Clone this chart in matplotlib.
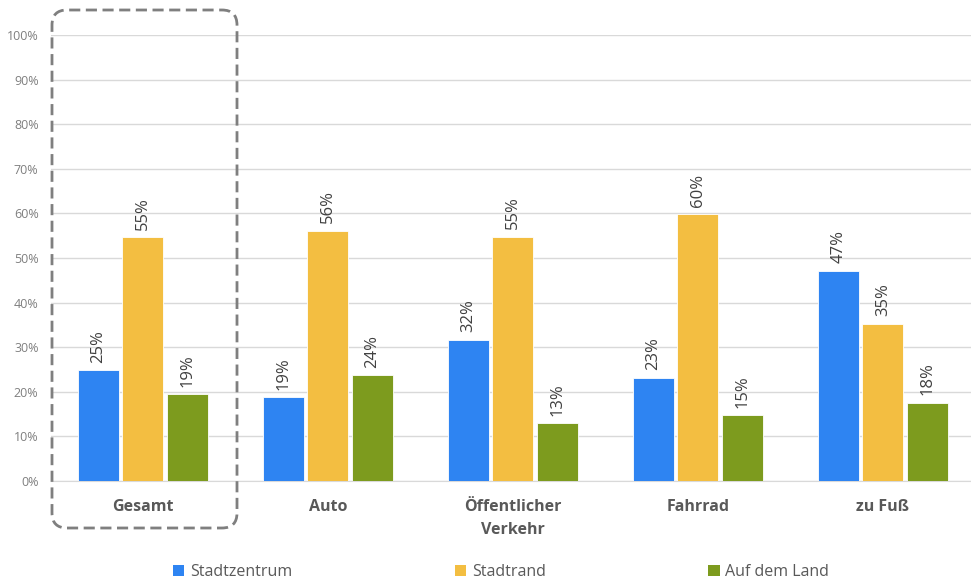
import numpy as np
import matplotlib
matplotlib.use("Agg")
from matplotlib import pyplot as plt
from matplotlib.patches import FancyBboxPatch
from matplotlib.transforms import IdentityTransform
from matplotlib.ticker import PercentFormatter

plt.rcParams['font.family'] = ['Open Sans', 'DejaVu Sans']

categories   = ['Gesamt', 'Auto', 'Öffentlicher\nVerkehr', 'Fahrrad', 'zu Fuß']
seriesNames  = ['Stadtzentrum', 'Stadtrand', 'Auf dem Land']
stadtzentrum = [24.8, 18.8, 31.6, 23.2, 47.1]
stadtrand    = [54.6, 56.1, 54.7, 59.8, 35.2]
aufDemLand   = [19.4, 23.7, 12.9, 14.7, 17.6]

colors = ['#2E84F2', '#F3BE41', '#7D9B1E']

fig = plt.figure(figsize=(9.71, 5.81), dpi=100)
ax = fig.add_axes([51 / 971, 100 / 581, 920 / 971, 446 / 581])

x = np.arange(len(categories))
step = 0.24
width = 0.222
for i, (name, values) in enumerate(zip(seriesNames, [stadtzentrum, stadtrand, aufDemLand])):
    pos = x + (i - 1) * step
    ax.bar(pos, values, width, color=colors[i], label=name, zorder=3,
           edgecolor='white', linewidth=0.6)
    for px, v in zip(pos, values):
        ax.annotate(f'{v:.0f}%', (px, v), xytext=(0, 5.5), textcoords='offset points',
                    rotation=90, ha='center', va='bottom', fontsize=12,
                    color='#404040', zorder=4)

ax.set_ylim(0, 100)
ax.set_xlim(-0.497, 4.476)
ax.set_yticks(np.arange(0, 101, 10))
ax.yaxis.set_major_formatter(PercentFormatter(decimals=0))
ax.grid(axis='y', color='#D9D9D9', linewidth=1, zorder=0)
for side in ['top', 'right', 'left']:
    ax.spines[side].set_visible(False)
ax.spines['bottom'].set_color('#D9D9D9')
ax.spines['bottom'].set_zorder(1)
ax.tick_params(axis='y', length=0, labelsize=9, labelcolor='#7F7F7F', pad=9)
ax.tick_params(axis='x', length=0, pad=13)
ax.set_xticks(x)
ax.set_xticklabels(categories, fontsize=11.5, fontweight='bold', color='#595959',
                   linespacing=1.6)

leg = fig.legend(loc='center', bbox_to_anchor=(0.516, 9 / 581), ncol=3, frameon=False,
                 fontsize=11.5, handlelength=0.7, handleheight=0.7,
                 handletextpad=0.35, columnspacing=10.2, labelcolor='#595959')
for h in leg.legend_handles:
    h.set_edgecolor('none')

# dashed frame around the overall group (pixel coordinates)
frame = FancyBboxPatch((52, 53), 185, 518,
                       boxstyle='round,pad=0,rounding_size=15',
                       transform=IdentityTransform(), fill=False,
                       edgecolor='#7F7F7F', linewidth=2, linestyle=(0, (4, 2)))
fig.patches.append(frame)

fig.savefig('out.png', dpi=100)
